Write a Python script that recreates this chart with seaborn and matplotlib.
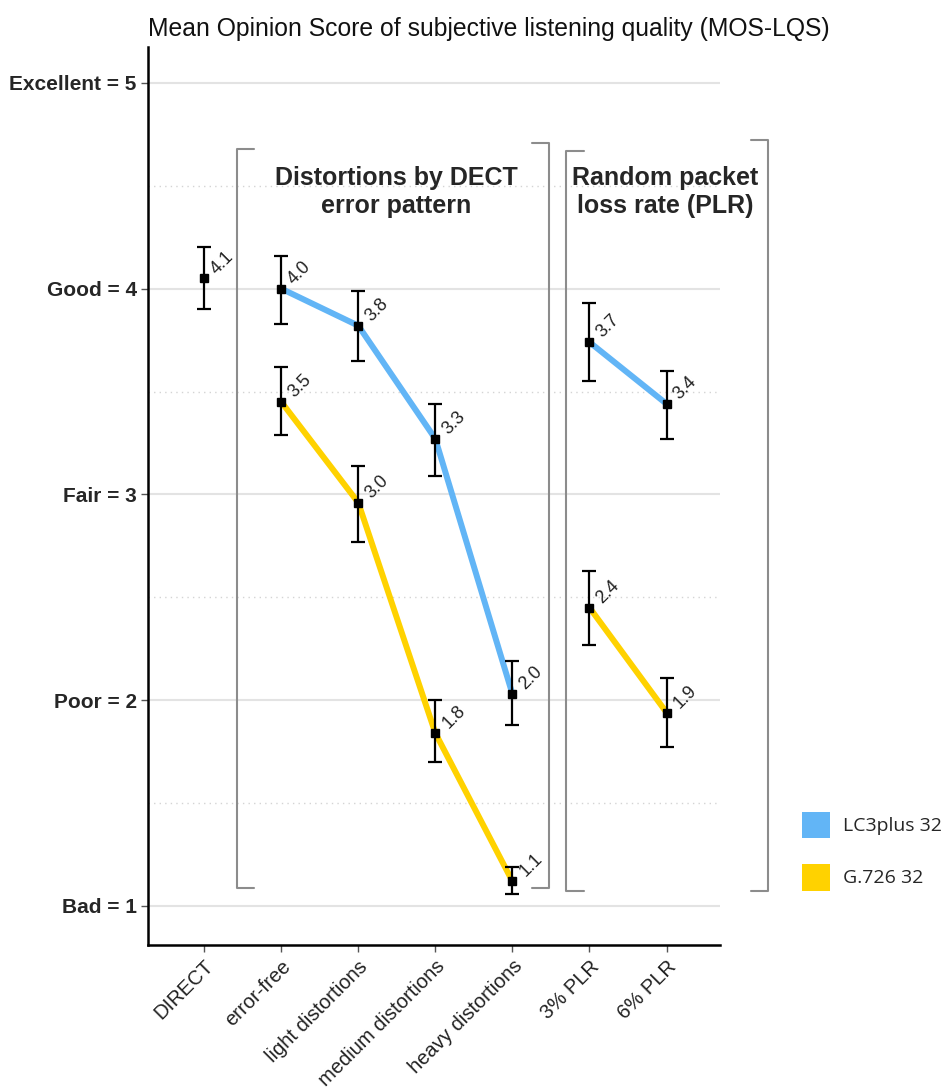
import numpy as np
import pandas as pd
import matplotlib
matplotlib.use("Agg")
import matplotlib.pyplot as plt
from matplotlib.patches import Patch
import seaborn as sns

# ---- data ----
categories = ["DIRECT", "error-free", "light distortions", "medium distortions",
              "heavy distortions", "3% PLR", "6% PLR"]
codecs = ["LC3plus 32", "G.726 32"]

direct_mos = 4.05
direct_lo, direct_hi = 3.90, 4.20

lc3_mos = [4.00, 3.82, 3.27, 2.03, 3.74, 3.44]
lc3_lo = [3.83, 3.65, 3.09, 1.88, 3.55, 3.27]
lc3_hi = [4.16, 3.99, 3.44, 2.19, 3.93, 3.60]

g726_mos = [3.45, 2.96, 1.84, 1.12, 2.45, 1.94]
g726_lo = [3.29, 2.77, 1.70, 1.06, 2.27, 1.77]
g726_hi = [3.62, 3.14, 2.00, 1.19, 2.63, 2.11]

labels_lc3 = ["4.0", "3.8", "3.3", "2.0", "3.7", "3.4"]
labels_g726 = ["3.5", "3.0", "1.8", "1.1", "2.4", "1.9"]

segments = ["dect", "dect", "dect", "dect", "plr", "plr"]
ytick_labels = ["Bad = 1", "Poor = 2", "Fair = 3", "Good = 4", "Excellent = 5"]

colors = {"LC3plus 32": "#62b5f6", "G.726 32": "#ffd200"}

rows = []
for codec, mos, lo, hi in [("LC3plus 32", lc3_mos, lc3_lo, lc3_hi),
                           ("G.726 32", g726_mos, g726_lo, g726_hi)]:
    for i, (m, l, h, s) in enumerate(zip(mos, lo, hi, segments)):
        rows.append(dict(codec=codec, x=i + 1, mos=m, lo=l, hi=h, seg=s))
df = pd.DataFrame(rows)

# ---- plot ----
sns.set_style("white")
plt.rcParams["font.family"] = ["Liberation Sans", "DejaVu Sans"]

fig = plt.figure(figsize=(9.48, 10.9), dpi=100)
ax = fig.add_axes([0.156, 0.133, 0.604, 0.824])

# grid
for v in [1, 2, 3, 4, 5]:
    ax.axhline(v, color="#e3e3e3", lw=1.5, zorder=0)
for v in [1.5, 2.5, 3.5, 4.5]:
    ax.axhline(v, color="#d4d4d4", lw=1, ls=(0, (1, 3)), zorder=0)

sns.lineplot(data=df, x="x", y="mos", hue="codec", units="seg", estimator=None,
             palette=colors, lw=4.3, legend=False, ax=ax, zorder=2)

# error bars and square markers
eb = dict(fmt="s", color="black", ms=5.5, capsize=5.3, elinewidth=1.6, capthick=1.6, zorder=3)
ax.errorbar([0], [direct_mos], yerr=[[direct_mos - direct_lo], [direct_hi - direct_mos]], **eb)
ax.errorbar(df["x"], df["mos"], yerr=[df["mos"] - df["lo"], df["hi"] - df["mos"]], **eb)

# value labels
val_labels = [(0, direct_mos, "4.1")]
val_labels += [(i + 1, m, t) for i, (m, t) in enumerate(zip(lc3_mos, labels_lc3))]
val_labels += [(i + 1, m, t) for i, (m, t) in enumerate(zip(g726_mos, labels_g726))]
for x, y, t in val_labels:
    ax.annotate(t, (x, y), xytext=(7, 5), textcoords="offset points", rotation=45,
                rotation_mode="anchor", ha="left", va="center", fontsize=13, color="#222222",
                zorder=4)

# group brackets
def bracket(x0, x1, y0, y1a, y1b, arm=0.23):
    kw = dict(color="#8c8c8c", lw=1.5, clip_on=False, zorder=1)
    ax.plot([x0 + arm, x0, x0, x0 + arm], [y1a, y1a, y0, y0], **kw)
    ax.plot([x1 - arm, x1, x1, x1 - arm], [y1b, y1b, y0, y0], **kw)

bracket(1 - 0.58, 4 + 0.48, 1.085, 4.68, 4.71)
bracket(5 - 0.30, 6 + 1.32, 1.075, 4.67, 4.72)

ax.text(2.49, 4.47, "Distortions by DECT\nerror pattern", ha="center", va="center",
        fontsize=18, fontweight="bold", linespacing=1.22)
ax.text(5.98, 4.47, "Random packet\nloss rate (PLR)", ha="center", va="center",
        fontsize=18, fontweight="bold", linespacing=1.22)

# axes
ax.set_xlim(-0.73, 6.7)
ax.set_ylim(0.81, 5.175)
ax.set_xticks(range(len(categories)))
ax.set_xticklabels(categories, rotation=45, ha="right", rotation_mode="anchor",
                   fontsize=14.5, color="#222222")
ax.set_yticks([1, 2, 3, 4, 5])
ax.set_yticklabels(ytick_labels, fontsize=15, fontweight="bold")
ax.tick_params(axis="both", length=5, width=1, color="#555555", left=True, bottom=True)
ax.tick_params(axis="y", pad=3)
ax.set_xlabel("")
ax.set_ylabel("")
sns.despine(ax=ax)
for s in ["left", "bottom"]:
    ax.spines[s].set_color("black")
    ax.spines[s].set_linewidth(1.8)

ax.set_title("Mean Opinion Score of subjective listening quality (MOS-LQS)",
             fontsize=17.8, loc="left", pad=8, color="#111111")

handles = [Patch(facecolor=colors[c], edgecolor="none", label=c) for c in codecs]
fig.legend(handles=handles, loc="upper left", bbox_to_anchor=(0.828, 0.2715),
           frameon=False, handlelength=1.4, handleheight=1.75,
           labelspacing=1.3, handletextpad=0.7,
           prop={"family": ["Open Sans", "DejaVu Sans"], "size": 14})

fig.savefig("out.png", dpi=100)
